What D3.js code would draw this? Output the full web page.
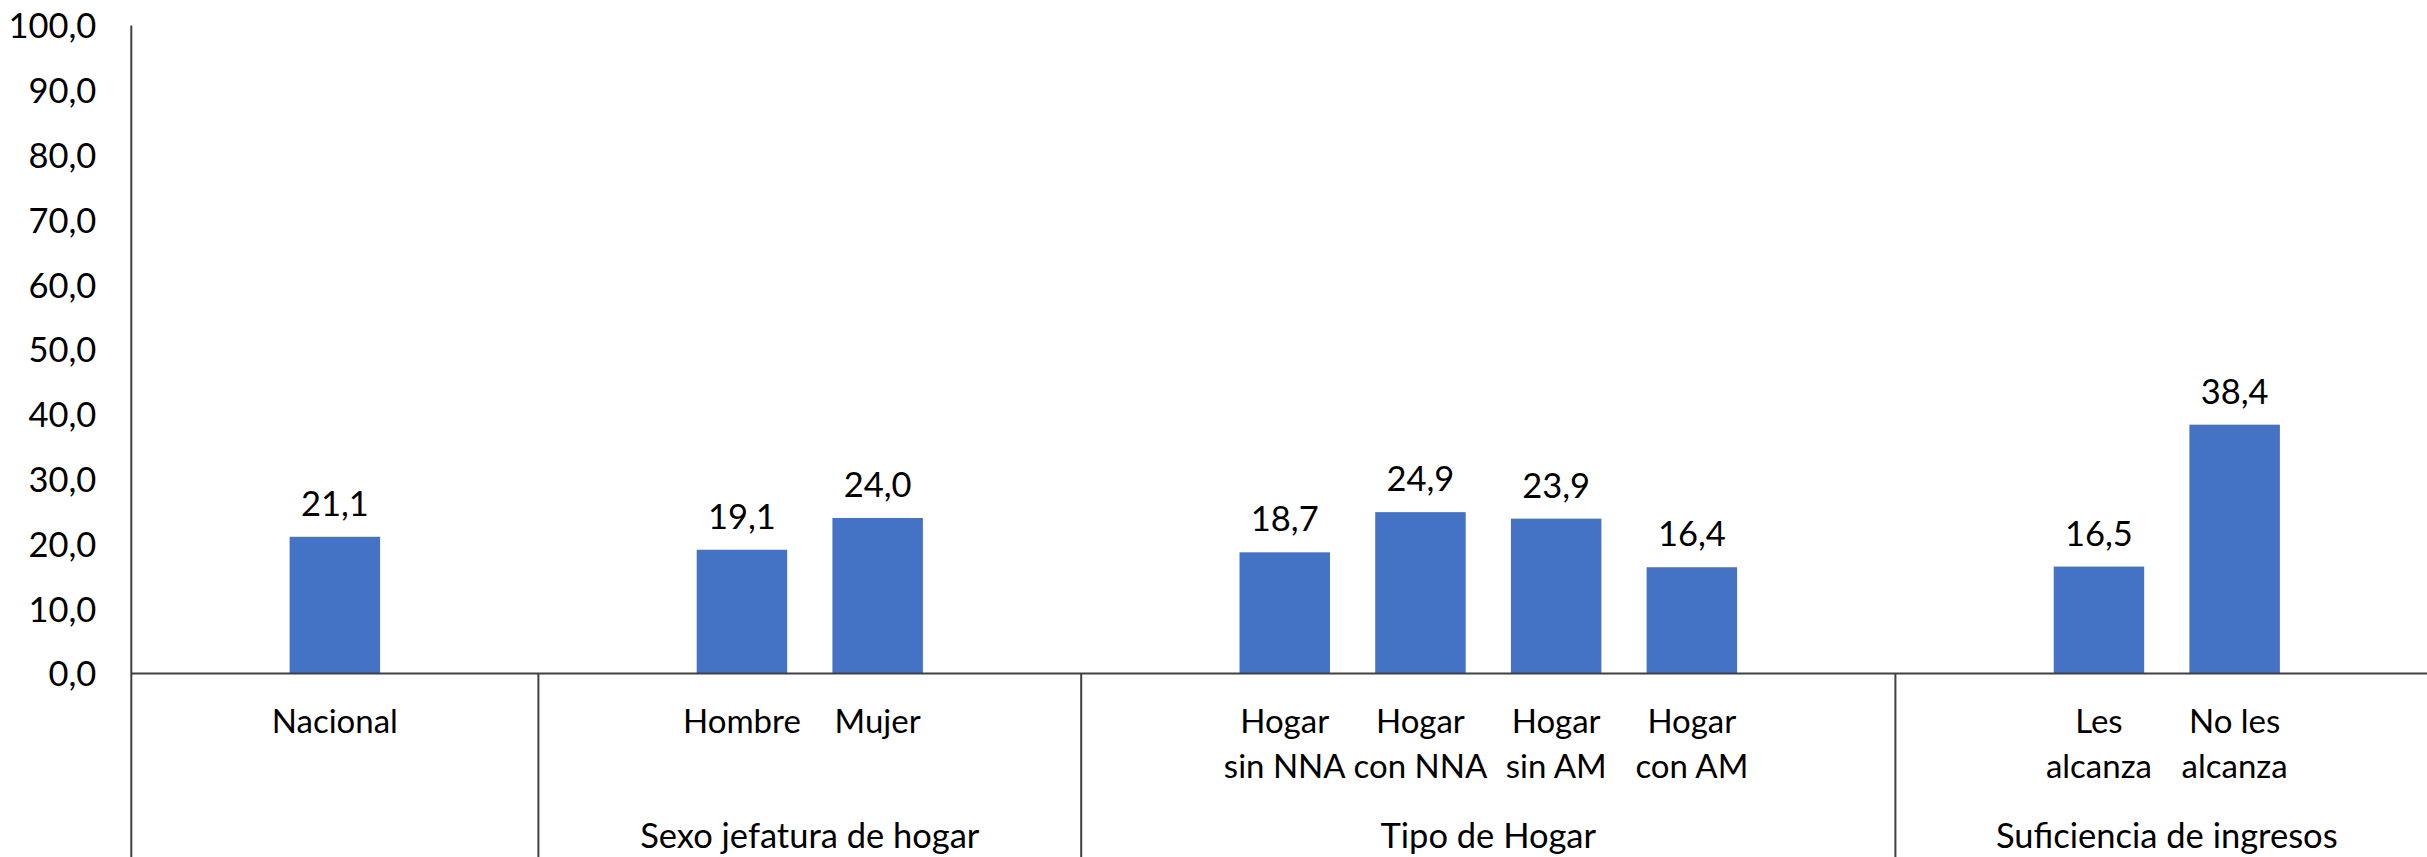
<!DOCTYPE html>
<html>
<head>
<meta charset="utf-8">
<script src="https://cdn.jsdelivr.net/npm/d3@7"></script>
<style>
  html, body { margin: 0; padding: 0; background: #fff; }
  svg { display: block; }
  text { font-family: Lato, "Open Sans", sans-serif; fill: #000; }
</style>
</head>
<body>
<svg id="chart" width="2427" height="857"></svg>
<script>
// ---- data ----
const groups = ["", "Sexo jefatura de hogar", "Tipo de Hogar", "Suficiencia de ingresos"];
const categories = [
  ["Nacional"],
  ["Hombre"], ["Mujer"],
  ["Hogar", "sin NNA"], ["Hogar", "con NNA"], ["Hogar", "sin AM"], ["Hogar", "con AM"],
  ["Les", "alcanza"], ["No les", "alcanza"]
];
const categoryGroup = [0, 1, 1, 2, 2, 2, 2, 3, 3];
const values = [21.1, 19.1, 24.0, 18.7, 24.9, 23.9, 16.4, 16.5, 38.4];
const yTicks = [0, 10, 20, 30, 40, 50, 60, 70, 80, 90, 100];

// ---- build slots: each group padded by an empty slot on both sides ----
const slots = [];
groups.forEach((g, gi) => {
  slots.push({ id: "pad-start-" + gi, group: gi });
  categories.forEach((c, ci) => {
    if (categoryGroup[ci] === gi) slots.push({ id: "cat-" + ci, group: gi, ci: ci });
  });
  slots.push({ id: "pad-end-" + gi, group: gi });
});

const svg = d3.select("#chart");
const W = 2427, H = 857;
const left = 131.3, rightEnd = 2438.2;
const y0 = 673.5, yTop = 25.5;
const FS = "34.5px";
const FS_CAT = "33px";

const x = d3.scaleBand()
  .domain(slots.map(s => s.id))
  .range([left, rightEnd])
  .paddingInner(1 / 3)
  .paddingOuter(1 / 6);
const step = x.step();
const slotStart = id => x(id) - step * x.paddingInner() / 2;

const y = d3.scaleLinear().domain([0, 100]).range([y0, yTop]);

const fmt = v => d3.format(".1f")(v).replace(".", ",");
const lineColor = "#404040";

// y axis labels
const yAxis = d3.axisLeft(y).tickValues(yTicks).tickFormat(fmt).tickSize(0).tickPadding(35);
const gy = svg.append("g").attr("transform", `translate(${left},0)`).call(yAxis);
gy.select(".domain").remove();
gy.selectAll("text").style("font-family", "Lato, sans-serif").style("font-size", FS).attr("fill", "#000").attr("dy", "0.36em");

// bars
const data = values.map((v, i) => ({ v, id: "cat-" + i, label: categories[i] }));
svg.append("g").selectAll("rect").data(data).join("rect")
  .attr("x", d => x(d.id))
  .attr("width", x.bandwidth())
  .attr("y", d => y(d.v))
  .attr("height", d => y(0) - y(d.v))
  .attr("fill", "#4472C4");

// data labels
svg.append("g").selectAll("text").data(data).join("text")
  .attr("x", d => x(d.id) + x.bandwidth() / 2)
  .attr("y", d => y(d.v) - 21)
  .attr("text-anchor", "middle")
  .style("font-size", FS)
  .text(d => fmt(d.v));

// axis lines
svg.append("line")
  .attr("x1", left).attr("x2", left).attr("y1", y(100)).attr("y2", H)
  .attr("stroke", lineColor).attr("stroke-width", 2);
svg.append("line")
  .attr("x1", left).attr("x2", W).attr("y1", y(0)).attr("y2", y(0))
  .attr("stroke", lineColor).attr("stroke-width", 2);

// group separators (start of each group after the first)
const groupBounds = groups.map((g, gi) => {
  const gs = slots.filter(s => s.group === gi);
  return { name: g, start: slotStart(gs[0].id), end: slotStart(gs[gs.length - 1].id) + step };
});
svg.append("g").selectAll("line").data(groupBounds.slice(1)).join("line")
  .attr("x1", d => d.start).attr("x2", d => d.start)
  .attr("y1", y(0)).attr("y2", H)
  .attr("stroke", lineColor).attr("stroke-width", 2);

// category labels
const cat = svg.append("g").selectAll("text").data(data).join("text")
  .attr("x", d => x(d.id) + x.bandwidth() / 2)
  .attr("y", 733)
  .attr("text-anchor", "middle")
  .style("font-size", FS_CAT);
cat.selectAll("tspan").data(d => d.label.map(t => ({ t, cx: x(d.id) + x.bandwidth() / 2 }))).join("tspan")
  .attr("x", d => d.cx)
  .attr("dy", (d, i) => i === 0 ? 0 : 45)
  .text(d => d.t);

// group labels
svg.append("g").selectAll("text").data(groupBounds.filter(d => d.name)).join("text")
  .attr("x", d => (d.start + d.end) / 2)
  .attr("y", 848)
  .attr("text-anchor", "middle")
  .style("font-size", FS)
  .text(d => d.name);
</script>
</body>
</html>
